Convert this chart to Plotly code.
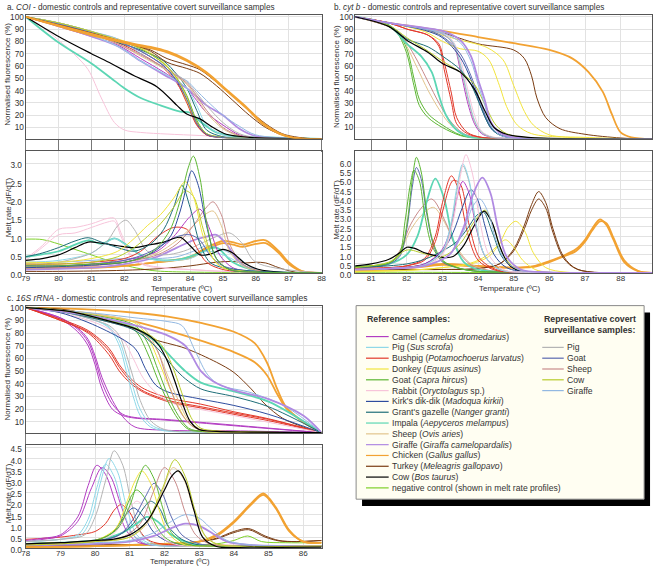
import plotly.graph_objects as go

W, H = 658, 573

COLORS = {
    "camel": "#B23CC2", "pig": "#8FD8E8", "bushpig": "#E2382A", "donkey": "#F2E43C",
    "goat": "#5CB632", "rabbit": "#F7C4DA", "dikdik": "#2E4C9E", "gazelle": "#1E6E78",
    "impala": "#5CD6B4", "sheep": "#E2C48C", "giraffe": "#B08AE2", "chicken": "#F2A232",
    "turkey": "#7A3C12", "cow": "#000000", "neg": "#7ED02A",
    "c_pig": "#B4B4B4", "c_goat": "#5A68B0", "c_sheep": "#C88A8A", "c_cow": "#B8CC2A",
    "c_giraffe": "#92B8E2",
}
WIDTHS = {"chicken": 1.8, "impala": 1.8, "giraffe": 1.8, "cow": 1.2}

# ---------------- a. COI ----------------
A_MID_T = [79, 80, 81, 81.8, 82.5, 83.2, 83.6, 83.9, 84.2, 84.5, 85.0, 85.5, 86, 88]
A_FLUOR = [
    ("rabbit", [79, 79.5, 80, 80.5, 80.9, 81.3, 81.7, 82.0, 82.5, 83.3, 84.3, 85.3, 86.8, 88],
               [100, 92, 81, 69, 57, 34, 14, 8, 6, 4.7, 3.5, 2.2, 1, 0.8]),
    ("impala", [79, 80, 81, 81.6, 82, 82.5, 83.1, 83.7, 84.0, 84.3, 84.8, 85.3, 86.3, 88],
               [100, 79, 62, 50, 42, 34, 28, 23, 22, 15, 6, 3, 2, 0.8]),
    ("goat", A_MID_T, [100, 95, 88, 81, 74, 62, 50, 36, 16, 5, 2, 1.3, 1, 0.8]),
    ("dikdik", A_MID_T, [100, 94, 87, 80, 72, 60, 47, 32, 13, 4, 1.8, 1.2, 1, 0.8]),
    ("bushpig", A_MID_T, [100, 94, 86, 79, 70, 58, 46, 30, 12, 4, 1.8, 1.2, 1, 0.8]),
    ("donkey", A_MID_T, [100, 95, 88, 82, 75, 63, 49, 32, 14, 5, 2, 1.3, 1, 0.8]),
    ("gazelle", A_MID_T, [100, 94, 86, 79, 73, 64, 53, 42, 24, 8, 2.5, 1.3, 1, 0.8]),
    ("camel", A_MID_T, [100, 92, 84, 77, 66, 55, 48, 42, 32, 22, 12, 4, 1.5, 0.8]),
    ("giraffe", A_MID_T, [100, 93, 84, 76, 64, 53, 47, 42, 35, 28, 20, 9, 3, 0.8]),
    ("c_giraffe", A_MID_T, [100, 95, 88, 82, 70, 58, 52, 48, 40, 32, 20, 11, 4, 0.8]),
    ("c_pig", A_MID_T, [100, 95, 88, 80, 72, 61, 53, 47, 38, 28, 14, 5, 2, 0.8]),
    ("sheep", A_MID_T, [100, 93, 86, 78, 68, 58, 51, 45, 34, 22, 9, 3, 1.5, 0.8]),
    ("c_sheep", A_MID_T, [100, 93, 86, 78, 69, 59, 52, 46, 36, 24, 10, 3.5, 1.5, 0.8]),
    ("pig", A_MID_T, [100, 94, 85, 76, 64, 54, 48, 42, 28, 12, 4, 1.5, 1, 0.8]),
    ("c_cow", A_MID_T, [100, 95, 88, 81, 74, 62, 50, 35, 15, 5, 2, 1.3, 1, 0.8]),
    ("c_goat", A_MID_T, [100, 94, 87, 80, 72, 60, 48, 33, 14, 4.5, 1.8, 1.2, 1, 0.8]),
    ("cow", [79, 80, 81, 81.6, 82.3, 83.0, 83.6, 83.9, 84.3, 84.7, 85.1, 85.8, 88],
            [100, 84, 70, 62, 52, 43, 28, 21, 17, 10, 4.5, 2, 0.8]),
    ("turkey", [79, 80.5, 81.5, 82.3, 82.8, 83.3, 83.9, 84.3, 84.8, 85.3, 85.8, 86.3, 86.8, 87.3, 88],
               [100, 90, 83, 77, 73, 66, 61, 57, 47, 36, 24, 13, 5, 2, 0.5]),
    ("turkey", [79, 80.5, 81.5, 82.3, 82.8, 83.3, 83.9, 84.3, 84.8, 85.3, 85.8, 86.3, 86.8, 87.3, 88],
               [100, 90, 83, 77, 72, 63, 58, 54, 44, 32, 20, 10, 4, 1.5, 0.5]),
    ("chicken", [79, 80.3, 81.3, 82.3, 82.8, 83.3, 83.9, 84.5, 85.1, 85.7, 86.2, 86.7, 87.1, 87.6, 88],
                [100, 91, 84, 78, 75.5, 72, 65, 55, 41, 27, 14, 5.5, 2, 0.7, 0.5]),
    ("chicken", [79, 80.3, 81.3, 82.3, 82.8, 83.3, 83.9, 84.5, 85.1, 85.7, 86.2, 86.7, 87.1, 87.6, 88],
                [100, 90, 83, 77, 74.5, 71, 64, 54, 40, 26, 13, 5, 1.8, 0.6, 0.5]),
]

A_MELT = [
    ("neg", [79, 79.5, 80, 80.5, 81, 81.5, 82, 82.5, 83, 84, 86, 88],
            [0.93, 0.92, 0.8, 0.65, 0.5, 0.35, 0.22, 0.12, 0.06, 0.03, 0.02, 0.01]),
    ("turkey", [79, 80, 81, 82, 83, 84, 84.8, 85.3, 85.7, 86.0, 86.3, 86.7, 87.2, 88],
               [0.05, 0.05, 0.06, 0.08, 0.12, 0.2, 0.3, 0.32, 0.28, 0.3, 0.28, 0.15, 0.03, 0.01]),
    ("chicken", [79, 80, 81, 82, 83, 84, 84.5, 85.0, 85.3, 85.6, 86.0, 86.3, 86.7, 87.0, 87.4, 88],
                [0.15, 0.15, 0.15, 0.2, 0.3, 0.45, 0.7, 0.88, 0.85, 0.78, 0.88, 0.9, 0.6, 0.3, 0.06, 0.01]),
    ("chicken", [79, 80, 81, 82, 83, 84, 84.5, 85.0, 85.3, 85.6, 86.0, 86.3, 86.7, 87.0, 87.4, 88],
                [0.15, 0.15, 0.15, 0.2, 0.3, 0.42, 0.65, 0.82, 0.78, 0.72, 0.8, 0.82, 0.55, 0.25, 0.05, 0.01]),
    ("rabbit", [79, 79.5, 80, 80.5, 81, 81.5, 81.7, 81.9, 82.2, 82.6, 83.2, 84, 85, 86, 88],
               [0.4, 0.75, 1.2, 1.25, 1.35, 1.5, 1.5, 1.1, 0.5, 0.25, 0.15, 0.1, 0.05, 0.03, 0.01]),
    ("rabbit", [79, 79.5, 80, 80.5, 81, 81.5, 81.7, 81.9, 82.2, 82.6, 83.2, 84, 85, 86, 88],
               [0.35, 0.7, 1.05, 1.1, 1.25, 1.4, 1.42, 1.0, 0.45, 0.22, 0.14, 0.1, 0.05, 0.03, 0.01]),
    ("c_giraffe", [79, 80, 81, 82, 83.0, 83.6, 84.1, 84.5, 84.8, 85.1, 85.5, 86, 88],
                  [0.3, 0.3, 0.35, 0.4, 0.4, 0.45, 0.6, 0.75, 0.7, 0.6, 0.4, 0.1, 0.01]),
    ("giraffe", [79, 80, 81, 82, 83.0, 83.6, 84.1, 84.5, 84.8, 85.1, 85.5, 86, 88],
                [0.1, 0.12, 0.15, 0.25, 0.45, 0.7, 0.9, 1.0, 1.05, 0.8, 0.3, 0.06, 0.01]),
    ("impala", [79, 80, 80.9, 81.3, 81.7, 82.1, 82.6, 83.2, 83.8, 84.3, 84.8, 85.3, 86, 88],
               [0.45, 0.6, 0.9, 0.8, 0.95, 0.75, 0.45, 0.35, 0.4, 0.55, 0.7, 0.3, 0.08, 0.01]),
    ("pig", [79, 80, 81, 81.4, 81.7, 82.0, 82.5, 83, 84, 84.5, 85, 86, 88],
            [0.3, 0.35, 0.55, 0.8, 0.95, 0.8, 0.5, 0.35, 0.4, 0.6, 0.5, 0.1, 0.01]),
    ("c_pig", [79, 80, 80.5, 81, 81.5, 81.8, 82.05, 82.3, 82.7, 83.2, 83.8, 84.3, 84.8, 85.2, 85.6, 86, 88],
              [0.2, 0.3, 0.4, 0.55, 0.9, 1.3, 1.45, 1.2, 0.6, 0.5, 0.6, 0.8, 1.0, 1.1, 0.8, 0.3, 0.01]),
    ("bushpig", [79, 80, 81, 82, 82.5, 83.0, 83.5, 83.9, 84.2, 84.5, 85, 86, 88],
                [0.25, 0.25, 0.3, 0.4, 0.6, 1.0, 1.25, 1.2, 0.7, 0.3, 0.1, 0.03, 0.01]),
    ("camel", [79, 80, 81, 82, 83.0, 83.5, 84.0, 84.3, 84.6, 84.9, 85.3, 86, 88],
              [0.2, 0.2, 0.25, 0.35, 0.6, 1.0, 1.55, 1.75, 1.2, 0.5, 0.15, 0.04, 0.01]),
    ("sheep", [79, 80, 81, 82, 83.0, 83.6, 84.1, 84.45, 84.7, 84.95, 85.2, 85.6, 86.2, 88],
              [0.18, 0.18, 0.22, 0.3, 0.55, 0.9, 1.3, 1.6, 1.7, 1.3, 0.6, 0.2, 0.05, 0.01]),
    ("c_sheep", [79, 80, 81, 82, 83.0, 83.6, 84.1, 84.45, 84.7, 84.95, 85.2, 85.6, 86.2, 88],
                [0.15, 0.15, 0.2, 0.3, 0.5, 0.8, 1.3, 1.75, 1.95, 1.6, 0.8, 0.25, 0.05, 0.01]),
    ("c_goat", [79, 80, 81, 82, 82.7, 83.2, 83.6, 84.0, 84.3, 84.6, 85, 86, 88],
               [0.2, 0.2, 0.25, 0.35, 0.55, 0.8, 1.0, 1.05, 0.9, 0.5, 0.2, 0.05, 0.01]),
    ("cow", [79, 79.5, 80, 80.5, 80.9, 81.3, 81.8, 82.3, 82.8, 83.2, 83.7, 84.0, 84.3, 84.6, 85.0, 85.3, 85.7, 86.2, 88],
            [0.35, 0.4, 0.5, 0.7, 0.85, 0.82, 0.75, 0.7, 0.78, 0.85, 0.98, 0.75, 0.5, 0.52, 0.65, 0.55, 0.25, 0.08, 0.01]),
    ("gazelle", [79, 79.5, 80, 80.5, 80.9, 81.3, 81.8, 82.3, 82.8, 83.2, 83.5, 83.75, 84.0, 84.3, 84.6, 85, 86, 88],
                [0.45, 0.55, 0.7, 0.88, 0.97, 0.85, 0.7, 0.6, 0.8, 1.2, 1.8, 2.4, 1.8, 0.8, 0.3, 0.15, 0.05, 0.01]),
    ("c_cow", [79, 80, 81, 81.8, 82.3, 82.7, 83.1, 83.5, 83.85, 84.1, 84.4, 84.7, 85.0, 86, 88],
              [0.25, 0.25, 0.3, 0.45, 0.7, 1.0, 1.35, 1.8, 2.25, 2.1, 1.2, 0.4, 0.15, 0.03, 0.01]),
    ("donkey", [79, 80, 81, 81.8, 82.3, 82.7, 83.1, 83.5, 83.85, 84.1, 84.4, 84.7, 85.0, 86, 88],
               [0.3, 0.3, 0.4, 0.6, 0.95, 1.3, 1.6, 2.05, 2.5, 2.1, 1.0, 0.4, 0.15, 0.03, 0.01]),
    ("dikdik", [79, 80, 81, 82, 82.6, 83.0, 83.4, 83.7, 83.9, 84.05, 84.25, 84.5, 84.8, 85.2, 86, 88],
               [0.15, 0.18, 0.22, 0.3, 0.45, 0.65, 1.0, 1.7, 2.4, 2.8, 2.4, 1.3, 0.4, 0.1, 0.03, 0.01]),
    ("goat", [79, 80, 81, 82, 82.6, 83.0, 83.4, 83.7, 83.95, 84.1, 84.3, 84.5, 84.8, 85.2, 86, 88],
             [0.2, 0.2, 0.25, 0.3, 0.45, 0.7, 1.2, 2.0, 2.9, 3.2, 2.6, 1.4, 0.4, 0.1, 0.03, 0.01]),
]

# ---------------- b. cyt b ----------------
B_FLUOR = [
    ("chicken", [80.55, 81.5, 83, 84, 85, 86, 86.65, 87.1, 87.5, 87.75, 88.0, 88.3, 88.88],
                [100, 95, 88.5, 83.5, 78.5, 73, 66, 55, 39, 21, 6, 2, 0.5]),
    ("turkey", [80.55, 81.5, 82.5, 83, 84, 85, 85.3, 85.5, 85.65, 85.9, 86.3, 87.0, 88, 88.88],
               [100, 95, 90, 87, 78, 73, 66, 52, 34, 18, 9, 4.5, 1.5, 0.5]),
    ("donkey", [80.55, 81.5, 82.5, 83, 83.5, 84.25, 84.7, 85.0, 85.3, 85.55, 86, 87, 88.88],
               [100, 95, 89, 85, 81, 75, 65, 44, 23, 12, 4, 2, 0.5]),
    ("donkey", [80.55, 81.5, 82.5, 83, 83.5, 84.0, 84.3, 84.6, 84.8, 85.1, 85.5, 86.5, 88.88],
               [100, 95, 88, 80, 74, 72, 65, 44, 27, 12, 5, 2, 0.5]),
    ("goat", [80.55, 81.5, 81.75, 82.0, 82.2, 82.35, 82.6, 83.0, 83.5, 84.0, 85, 88.88],
             [100, 92, 86, 70, 44, 28, 18, 10, 3.5, 1.2, 0.8, 0.5]),
    ("goat", [80.55, 81.5, 81.75, 82.0, 82.2, 82.35, 82.6, 83.0, 83.5, 84.0, 85, 88.88],
             [100, 92, 87, 74, 50, 33, 21, 12, 4, 1.5, 0.8, 0.5]),
    ("sheep", [80.55, 81.5, 81.8, 82.0, 82.3, 82.6, 82.9, 83.2, 83.6, 84.2, 88.88],
              [100, 92, 86, 76, 58, 40, 25, 13, 4, 1.2, 0.5]),
    ("c_sheep", [80.55, 81.5, 81.8, 82.0, 82.3, 82.6, 82.9, 83.2, 83.6, 84.2, 88.88],
                [100, 92, 87, 79, 64, 47, 30, 16, 5, 1.3, 0.5]),
    ("impala", [80.55, 81.5, 82.0, 82.4, 82.7, 82.9, 83.1, 83.4, 83.8, 84.3, 88.88],
               [100, 93, 78, 68, 55, 36, 20, 8, 2, 1, 0.5]),
    ("bushpig", [80.55, 81.5, 82.0, 82.6, 82.9, 83.05, 83.25, 83.4, 83.7, 84.1, 85, 88.88],
                [100, 95, 90, 85, 76, 57, 31, 13, 5, 2, 1, 0.5]),
    ("bushpig", [80.55, 81.5, 82.0, 82.6, 82.9, 83.05, 83.25, 83.4, 83.7, 84.1, 85, 88.88],
                [100, 95, 90, 85, 78, 63, 38, 18, 6, 2, 1, 0.5]),
    ("camel", [80.55, 81.5, 82.5, 83.0, 83.3, 83.5, 83.7, 83.9, 84.1, 84.4, 85, 88.88],
              [100, 95, 90, 86, 78, 57, 31, 13, 5, 2, 1, 0.5]),
    ("rabbit", [80.55, 81.5, 82.5, 83.0, 83.3, 83.5, 83.7, 83.9, 84.1, 84.4, 85, 88.88],
               [100, 95, 90, 87, 80, 66, 42, 20, 7, 2.5, 1, 0.5]),
    ("pig", [80.55, 81.5, 82.5, 83.0, 83.3, 83.5, 83.7, 83.9, 84.1, 84.4, 85, 88.88],
            [100, 95, 90, 86, 79, 62, 37, 16, 6, 2, 1, 0.5]),
    ("c_pig", [80.55, 81.5, 82.5, 83.0, 83.3, 83.5, 83.7, 83.9, 84.1, 84.4, 85, 88.88],
              [100, 95, 90, 86, 78, 60, 35, 15, 6, 2, 1, 0.5]),
    ("dikdik", [80.55, 81.5, 82.5, 83.0, 83.5, 83.8, 84.0, 84.2, 84.4, 84.7, 85.2, 88.88],
               [100, 95, 89, 83, 67, 49, 33, 18, 8, 3, 1.5, 0.5]),
    ("c_goat", [80.55, 81.5, 82.5, 83.0, 83.5, 83.8, 84.0, 84.2, 84.4, 84.7, 85.2, 88.88],
               [100, 95, 90, 84, 70, 52, 36, 20, 9, 3, 1.5, 0.5]),
    ("gazelle", [80.55, 81.5, 82.0, 82.6, 83.0, 83.5, 83.8, 84.1, 84.35, 84.6, 85, 88.88],
                [100, 93, 82, 75.5, 68, 57, 45, 25, 10, 4, 2, 0.5]),
    ("c_cow", [80.55, 81.5, 82.0, 82.6, 83.0, 83.5, 83.9, 84.2, 84.5, 84.8, 85.3, 88.88],
              [100, 93, 83, 72, 64, 55, 45, 28, 12, 5, 2, 0.5]),
    ("c_giraffe", [80.55, 81.5, 82.5, 83.0, 83.5, 83.8, 84.0, 84.2, 84.35, 84.6, 85, 88.88],
                  [100, 95, 90, 87, 79, 64, 45, 27, 12, 4, 1.5, 0.5]),
    ("giraffe", [80.55, 81.5, 82.5, 83.0, 83.5, 83.8, 84.0, 84.2, 84.35, 84.6, 85, 88.88],
                [100, 95, 91, 88.5, 81, 68, 49, 31, 15, 6, 2, 0.5]),
    ("cow", [80.55, 81.5, 82.0, 82.6, 83.0, 83.5, 83.9, 84.2, 84.45, 84.8, 85.4, 88.88],
            [100, 92, 81, 71, 62, 55, 41, 23, 10, 4.5, 2, 0.5]),
]

B_MELT = [
    ("neg", [80.55, 82, 84, 86, 88.88], [0.05, 0.05, 0.04, 0.04, 0.03]),
    ("chicken", [80.55, 82, 83, 84, 85, 85.6, 86.0, 86.4, 86.75, 87.0, 87.2, 87.42, 87.6, 87.8, 88.1, 88.5, 88.88],
                [0.1, 0.3, 0.5, 0.4, 0.3, 0.4, 0.65, 0.95, 1.3, 1.8, 2.4, 2.9, 2.6, 1.8, 0.6, 0.1, 0.02]),
    ("chicken", [80.55, 82, 83, 84, 85, 85.6, 86.0, 86.4, 86.75, 87.0, 87.2, 87.42, 87.6, 87.8, 88.1, 88.5, 88.88],
                [0.1, 0.25, 0.45, 0.35, 0.3, 0.35, 0.6, 0.9, 1.2, 1.7, 2.3, 2.8, 2.7, 1.9, 0.7, 0.12, 0.02]),
    ("turkey", [80.55, 82, 83, 84, 84.6, 85.0, 85.3, 85.5, 85.7, 85.9, 86.1, 86.4, 86.8, 88.88],
               [0.2, 0.2, 0.2, 0.25, 0.5, 1.3, 2.6, 3.7, 4.4, 3.8, 2.4, 0.9, 0.2, 0.02]),
    ("turkey", [80.55, 82, 83, 84, 84.6, 85.0, 85.3, 85.5, 85.7, 85.9, 86.1, 86.4, 86.8, 88.88],
               [0.2, 0.2, 0.2, 0.25, 0.5, 1.2, 2.4, 3.4, 4.0, 3.5, 2.2, 0.8, 0.2, 0.02]),
    ("donkey", [80.55, 82, 83, 83.8, 84.3, 84.6, 84.85, 85.06, 85.3, 85.55, 85.9, 86.5, 88.88],
               [0.1, 0.15, 0.3, 0.5, 0.9, 1.6, 2.5, 2.8, 2.3, 1.1, 0.3, 0.05, 0.02]),
    ("donkey", [80.55, 82, 83, 83.8, 84.2, 84.5, 84.77, 85.0, 85.25, 85.6, 86, 88.88],
               [0.1, 0.15, 0.3, 0.55, 0.9, 1.4, 1.8, 1.4, 0.7, 0.2, 0.05, 0.02]),
    ("sheep", [80.55, 81.5, 81.8, 82.1, 82.4, 82.75, 83.1, 83.4, 83.8, 84.3, 85, 88.88],
              [0.3, 0.5, 1.1, 2.3, 3.1, 3.55, 2.6, 1.4, 0.5, 0.15, 0.05, 0.02]),
    ("c_sheep", [80.55, 81.5, 81.8, 82.1, 82.4, 82.7, 83.1, 83.4, 83.8, 84.3, 85, 88.88],
                [0.3, 0.5, 1.2, 2.6, 3.5, 4.0, 2.7, 1.3, 0.45, 0.15, 0.05, 0.02]),
    ("impala", [80.55, 81.5, 82.0, 82.3, 82.55, 82.8, 83.05, 83.3, 83.6, 84, 85, 88.88],
               [0.35, 0.5, 1.0, 2.0, 3.8, 5.1, 4.0, 1.8, 0.6, 0.2, 0.05, 0.02]),
    ("c_goat", [80.55, 81, 81.5, 81.8, 82.0, 82.15, 82.27, 82.4, 82.55, 82.75, 83.0, 83.5, 84, 85, 88.88],
               [0.3, 0.35, 0.5, 0.9, 2.4, 4.6, 5.7, 5.1, 3.3, 1.5, 0.6, 0.25, 0.1, 0.05, 0.02]),
    ("goat", [80.55, 81, 81.5, 81.8, 82.0, 82.15, 82.27, 82.4, 82.55, 82.75, 83.0, 83.5, 84, 85, 88.88],
             [0.35, 0.4, 0.55, 1.0, 2.6, 5.0, 6.25, 5.5, 3.5, 1.6, 0.7, 0.25, 0.1, 0.05, 0.02]),
    ("goat", [80.55, 81, 81.5, 81.8, 81.95, 82.1, 82.2, 82.35, 82.5, 82.7, 83.0, 83.5, 84, 85, 88.88],
             [0.35, 0.4, 0.55, 1.1, 2.8, 4.8, 5.55, 5.0, 3.2, 1.5, 0.65, 0.25, 0.1, 0.05, 0.02]),
    ("bushpig", [80.55, 81.5, 82.0, 82.5, 82.8, 83.0, 83.25, 83.45, 83.7, 84.0, 84.5, 85.5, 88.88],
                [0.25, 0.3, 0.4, 0.8, 2.0, 3.8, 5.25, 4.5, 2.2, 0.7, 0.15, 0.05, 0.02]),
    ("bushpig", [80.55, 81.5, 82.0, 82.5, 82.8, 83.0, 83.3, 83.5, 83.75, 84.05, 84.5, 85.5, 88.88],
                [0.25, 0.3, 0.4, 0.7, 1.7, 3.3, 5.0, 4.8, 2.6, 0.8, 0.2, 0.05, 0.02]),
    ("gazelle", [80.55, 81.5, 82.0, 82.5, 83.0, 83.4, 83.7, 83.95, 84.15, 84.4, 84.7, 85.2, 88.88],
                [0.3, 0.4, 0.5, 0.75, 1.2, 1.7, 2.4, 3.1, 3.3, 2.2, 0.8, 0.1, 0.02]),
    ("c_cow", [80.55, 81.5, 82.0, 82.5, 83.0, 83.5, 83.9, 84.2, 84.45, 84.7, 85.1, 86, 88.88],
              [0.3, 0.6, 1.25, 1.05, 0.9, 1.6, 2.8, 3.4, 2.4, 1.0, 0.2, 0.03, 0.02]),
    ("cow", [80.55, 81.0, 81.5, 81.8, 82.0, 82.2, 82.5, 82.8, 83.0, 83.3, 83.6, 83.9, 84.17, 84.4, 84.6, 84.85, 85.2, 86, 88.88],
            [0.4, 0.5, 0.75, 1.1, 1.4, 1.35, 1.1, 0.95, 0.85, 0.9, 1.5, 2.6, 3.35, 2.7, 1.5, 0.5, 0.1, 0.03, 0.02]),
    ("dikdik", [80.55, 81.5, 82.5, 83.0, 83.3, 83.55, 83.8, 84.0, 84.2, 84.45, 84.8, 85.5, 88.88],
               [0.2, 0.25, 0.5, 1.2, 2.2, 3.5, 4.5, 3.9, 2.5, 1.0, 0.3, 0.05, 0.02]),
    ("camel", [80.55, 81.5, 82.5, 83.0, 83.25, 83.4, 83.57, 83.75, 83.95, 84.2, 84.6, 85.5, 88.88],
              [0.2, 0.25, 0.5, 1.3, 2.6, 4.0, 4.95, 4.3, 2.4, 0.9, 0.2, 0.05, 0.02]),
    ("c_pig", [80.55, 81.5, 82.5, 83.0, 83.25, 83.4, 83.57, 83.75, 83.95, 84.2, 84.6, 85.5, 88.88],
              [0.2, 0.25, 0.45, 1.1, 2.6, 4.4, 5.8, 4.9, 2.5, 0.9, 0.2, 0.05, 0.02]),
    ("pig", [80.55, 81.5, 82.5, 83.0, 83.25, 83.4, 83.57, 83.75, 83.95, 84.2, 84.6, 85.5, 88.88],
            [0.2, 0.25, 0.45, 1.2, 2.8, 4.6, 5.9, 5.0, 2.6, 0.9, 0.2, 0.05, 0.02]),
    ("rabbit", [80.55, 81.5, 82.5, 83.0, 83.3, 83.5, 83.66, 83.85, 84.05, 84.3, 84.7, 85.5, 88.88],
               [0.2, 0.25, 0.4, 1.0, 2.8, 5.2, 6.4, 5.3, 2.8, 1.0, 0.2, 0.05, 0.02]),
    ("c_giraffe", [80.55, 81.5, 82.5, 83.2, 83.6, 83.85, 84.05, 84.3, 84.5, 84.8, 85.2, 86, 88.88],
                  [0.2, 0.25, 0.4, 1.0, 2.3, 3.6, 4.0, 3.2, 1.8, 0.6, 0.15, 0.05, 0.02]),
    ("giraffe", [80.55, 81.5, 82.5, 83.2, 83.6, 83.85, 84.12, 84.35, 84.55, 84.8, 85.2, 86, 88.88],
                [0.2, 0.25, 0.4, 1.0, 2.5, 4.2, 5.15, 4.3, 2.5, 0.9, 0.2, 0.05, 0.02]),
]

# ---------------- c. 16S rRNA ----------------
C_FLUOR = [
    ("chicken", [78, 79, 80.2, 81.15, 82.1, 83.05, 84.0, 84.6, 84.95, 85.25, 85.5, 86.0, 86.53],
                [100, 99.5, 98, 96, 93, 88, 81, 72, 57, 36, 22, 10, 1.5]),
    ("chicken", [78, 79, 80.2, 81.15, 82.1, 83.05, 84.0, 84.6, 84.95, 85.25, 85.5, 86.0, 86.53],
                [100, 98, 94, 89, 82, 74, 65, 57, 47, 32, 21, 10, 1.5]),
    ("turkey", [78, 79.25, 80.2, 81.15, 81.6, 82.6, 83.5, 84.0, 84.5, 84.9, 85.4, 86.0, 86.53],
               [100, 98, 91, 83.5, 76, 68, 57, 49, 36, 24, 13, 6, 1.5]),
    ("camel", [78, 79.0, 79.5, 79.8, 80.0, 80.2, 80.5, 80.8, 81.15, 82, 84, 86.53],
              [100, 91, 81, 70, 55, 36, 20, 15, 13, 11.5, 7, 1.5]),
    ("camel", [78, 79.0, 79.5, 79.8, 80.0, 80.2, 80.5, 80.8, 81.15, 82, 84, 86.53],
              [100, 92, 83, 73, 59, 41, 24, 16, 13.5, 12, 7.5, 1.5]),
    ("camel", [78, 79.0, 79.5, 79.8, 80.0, 80.2, 80.5, 80.8, 81.15, 82, 84, 86.53],
              [100, 92, 84, 75, 62, 45, 27, 14, 6, 3.5, 3, 1.5]),
    ("bushpig", [78, 79.0, 79.8, 80.4, 80.7, 81.0, 81.35, 82.1, 83.05, 84.0, 85.0, 86.53],
                [100, 90, 80, 63, 50, 41, 34, 26, 21, 16, 11, 1.5]),
    ("bushpig", [78, 79.0, 79.8, 80.4, 80.7, 81.0, 81.35, 82.1, 83.05, 84.0, 85.0, 86.53],
                [100, 90, 81, 66, 53, 43, 35, 27, 22, 17, 12, 1.5]),
    ("bushpig", [78, 79.0, 79.8, 80.4, 80.7, 81.0, 81.35, 82.1, 83.05, 84.0, 85.0, 86.53],
                [100, 91, 82, 68, 55, 45, 37, 29, 24, 18, 12.5, 1.5]),
    ("pig", [78, 79.0, 80.0, 80.4, 80.7, 80.9, 81.1, 81.3, 81.6, 82, 83, 86.53],
            [100, 97, 90, 84, 70, 50, 30, 15, 6, 3, 2, 1.5]),
    ("pig", [78, 79.0, 80.0, 80.4, 80.7, 80.9, 81.1, 81.3, 81.6, 82, 83, 86.53],
            [100, 97, 90, 85, 74, 57, 37, 20, 8, 3.5, 2, 1.5]),
    ("c_pig", [78, 79.0, 80.0, 80.4, 80.7, 80.9, 81.1, 81.3, 81.6, 82, 83, 86.53],
              [100, 97, 90, 86, 78, 63, 45, 27, 11, 4, 2, 1.5]),
    ("rabbit", [78, 79, 80.2, 80.8, 81.1, 81.4, 81.8, 82.3, 83, 84, 86.53],
               [100, 96, 86, 75, 60, 44, 32, 24, 20, 15, 1.5]),
    ("dikdik", [78, 79, 80.2, 81.15, 81.45, 81.75, 82.1, 83.05, 84.0, 85.0, 86.53],
               [100, 96, 83.5, 68, 52, 39, 33.6, 28, 23, 16, 1.5]),
    ("goat", [78, 79, 80.2, 81.15, 81.5, 81.8, 82.1, 82.4, 82.7, 83.1, 84, 86.53],
             [100, 98, 93, 86, 73, 52, 31, 15, 5, 2.5, 2, 1.5]),
    ("goat", [78, 79, 80.2, 81.15, 81.5, 81.8, 82.1, 82.4, 82.7, 83.1, 84, 86.53],
             [100, 98, 92, 82, 65, 44, 26, 12, 4, 2.5, 2, 1.5]),
    ("donkey", [78, 79, 80.2, 81.15, 81.5, 81.8, 82.1, 82.4, 82.7, 83.1, 84, 86.53],
               [100, 98, 94, 88, 78, 60, 40, 22, 9, 3, 2, 1.5]),
    ("sheep", [78, 79, 80.2, 81.15, 81.5, 81.8, 82.1, 82.4, 82.7, 83.1, 84, 86.53],
              [100, 98, 94, 89, 81, 66, 46, 27, 11, 3.5, 2, 1.5]),
    ("c_sheep", [78, 79, 80.2, 81.15, 81.5, 81.8, 82.0, 82.2, 82.5, 82.9, 84, 86.53],
                [100, 97, 90, 83, 77, 66, 50, 34, 16, 5, 2.5, 1.5]),
    ("impala", [78, 79, 80.2, 81.15, 81.8, 82.3, 82.6, 83.05, 84.0, 85.0, 86.53],
               [100, 97, 91, 84, 72, 58, 50, 41, 34, 26, 1.5]),
    ("gazelle", [78, 79, 80.2, 81.15, 81.8, 82.3, 82.6, 83.05, 84.0, 85.0, 86.53],
                [100, 97, 90, 82, 68, 52, 44, 36, 30, 22, 1.5]),
    ("c_giraffe", [78, 79, 80.2, 81.15, 82.1, 82.5, 82.9, 83.25, 83.6, 84.5, 85.5, 86.53],
                  [100, 98, 95, 92, 89, 86, 65, 47, 39, 33, 22, 1.5]),
    ("giraffe", [78, 79, 80.2, 81.15, 82.1, 82.6, 83.05, 83.4, 84.0, 85.0, 86.0, 86.53],
                [100, 97, 92, 86, 78, 70, 50, 42, 35, 28, 15, 1.5]),
    ("c_cow", [78, 79.25, 80.2, 81.15, 81.6, 81.9, 82.15, 82.35, 82.55, 82.8, 83.05, 83.5, 84.5, 86.53],
              [100, 97, 91, 84, 78, 71, 59, 45, 29, 12, 5, 3, 2, 1.5]),
    ("cow", [78, 79.25, 80.2, 81.15, 81.6, 81.85, 82.1, 82.3, 82.5, 82.75, 83.0, 83.5, 84.5, 86.53],
            [100, 97, 91, 83.5, 77, 70, 57, 42, 26, 10, 4, 2.5, 2, 1.5]),
]

C_MELT = [
    ("neg", [78, 80, 82, 83.5, 84.0, 84.4, 84.8, 85.5, 86.53],
            [0.1, 0.12, 0.15, 0.2, 0.35, 0.55, 0.3, 0.25, 0.25]),
    ("turkey", [78, 80, 82, 83, 83.5, 84.0, 84.43, 84.9, 85.3, 85.8, 86.53],
               [0.1, 0.15, 0.2, 0.3, 0.45, 0.75, 0.88, 0.55, 0.35, 0.3, 0.35]),
    ("turkey", [78, 80, 82, 83, 83.5, 84.0, 84.43, 84.9, 85.3, 85.8, 86.53],
               [0.1, 0.15, 0.2, 0.3, 0.42, 0.7, 0.83, 0.5, 0.33, 0.3, 0.35]),
    ("chicken", [78, 80, 82, 83, 83.5, 84.0, 84.5, 84.85, 85.2, 85.6, 86.0, 86.53],
                [0.05, 0.1, 0.2, 0.3, 0.6, 1.2, 2.0, 2.45, 1.85, 0.8, 0.3, 0.25]),
    ("chicken", [78, 80, 82, 83, 83.5, 84.0, 84.5, 84.85, 85.2, 85.6, 86.0, 86.53],
                [0.05, 0.1, 0.2, 0.3, 0.55, 1.15, 1.95, 2.38, 1.8, 0.75, 0.3, 0.25]),
    ("bushpig", [78, 79, 79.5, 80, 80.3, 80.55, 80.75, 81.0, 81.2, 81.5, 81.9, 83, 86.53],
                [0.4, 0.5, 0.6, 0.75, 1.1, 1.7, 1.95, 1.6, 1.0, 0.4, 0.2, 0.15, 0.1]),
    ("camel", [78, 78.5, 79, 79.5, 79.8, 80.05, 80.3, 80.6, 80.9, 81.2, 81.6, 82.5, 84, 86.53],
              [0.35, 0.45, 0.6, 1.4, 2.8, 3.7, 3.3, 2.0, 0.8, 0.3, 0.15, 0.1, 0.1, 0.1]),
    ("camel", [78, 78.5, 79, 79.5, 79.9, 80.2, 80.45, 80.75, 81.05, 81.35, 81.7, 82.5, 84, 86.53],
              [0.3, 0.4, 0.55, 1.2, 2.7, 3.6, 3.2, 1.9, 0.7, 0.25, 0.15, 0.1, 0.1, 0.1]),
    ("pig", [78, 79, 79.5, 79.8, 80.05, 80.3, 80.55, 80.8, 81.1, 81.5, 82, 84, 86.53],
            [0.3, 0.4, 0.6, 1.3, 2.7, 3.75, 3.2, 1.8, 0.6, 0.2, 0.1, 0.1, 0.1]),
    ("pig", [78, 79, 79.6, 79.9, 80.15, 80.4, 80.65, 80.9, 81.2, 81.6, 82, 84, 86.53],
            [0.3, 0.4, 0.6, 1.4, 2.9, 4.0, 3.4, 1.9, 0.6, 0.2, 0.1, 0.1, 0.1]),
    ("c_pig", [78, 79, 79.7, 80.0, 80.3, 80.55, 80.8, 81.05, 81.35, 81.7, 82.2, 84, 86.53],
              [0.3, 0.4, 0.6, 1.4, 3.0, 4.35, 3.7, 2.0, 0.6, 0.2, 0.1, 0.1, 0.1]),
    ("impala", [78, 79, 80, 80.8, 81.2, 81.5, 81.8, 82.2, 82.8, 84, 86.53],
               [0.2, 0.25, 0.35, 0.7, 1.1, 1.4, 1.2, 0.6, 0.2, 0.1, 0.1]),
    ("dikdik", [78, 79, 80, 80.5, 80.8, 81.1, 81.4, 81.7, 82.1, 82.6, 83.5, 86.53],
               [0.15, 0.2, 0.35, 0.7, 1.3, 1.8, 1.4, 0.7, 0.3, 0.15, 0.1, 0.1]),
    ("rabbit", [78, 79, 80, 80.5, 80.8, 81.0, 81.2, 81.45, 81.7, 82.0, 82.4, 83.5, 86.53],
               [0.2, 0.25, 0.35, 0.6, 1.2, 1.8, 2.1, 1.8, 1.0, 0.4, 0.15, 0.1, 0.1]),
    ("goat", [78, 79, 80, 80.5, 80.8, 81.0, 81.2, 81.45, 81.7, 82.0, 82.4, 83.5, 86.53],
             [0.2, 0.25, 0.35, 0.7, 1.4, 2.2, 2.6, 2.2, 1.2, 0.5, 0.2, 0.1, 0.1]),
    ("gazelle", [78, 79, 80, 80.7, 81.1, 81.4, 81.6, 81.85, 82.1, 82.5, 83, 84, 86.53],
                [0.15, 0.2, 0.3, 0.6, 1.1, 1.8, 2.1, 1.8, 1.0, 0.4, 0.15, 0.1, 0.1]),
    ("c_goat", [78, 79, 80, 80.7, 81.1, 81.45, 81.7, 81.95, 82.2, 82.5, 83, 84, 86.53],
               [0.15, 0.2, 0.3, 0.6, 1.3, 2.3, 2.9, 2.4, 1.4, 0.6, 0.2, 0.1, 0.1]),
    ("donkey", [78, 79, 80, 80.6, 80.9, 81.15, 81.35, 81.6, 81.85, 82.1, 82.5, 83.5, 86.53],
               [0.2, 0.25, 0.35, 0.9, 2.0, 3.0, 3.45, 2.9, 1.7, 0.7, 0.2, 0.1, 0.1]),
    ("goat", [78, 79, 80, 80.6, 81.0, 81.25, 81.45, 81.7, 81.95, 82.2, 82.6, 83.5, 86.53],
             [0.2, 0.25, 0.35, 0.8, 1.9, 3.1, 3.7, 3.1, 1.8, 0.7, 0.2, 0.1, 0.1]),
    ("giraffe", [78, 79, 80, 81, 81.7, 82.2, 82.6, 83.0, 83.4, 83.8, 84.5, 86.53],
                [0.15, 0.15, 0.2, 0.3, 0.55, 0.9, 1.1, 1.0, 0.65, 0.3, 0.15, 0.1]),
    ("c_giraffe", [78, 79, 80, 81, 81.7, 82.2, 82.6, 83.0, 83.4, 83.8, 84.5, 86.53],
                  [0.2, 0.2, 0.25, 0.35, 0.7, 1.2, 1.5, 1.35, 0.8, 0.35, 0.15, 0.1]),
    ("c_sheep", [78, 79, 80, 80.8, 81.3, 81.65, 82.0, 82.3, 82.6, 82.9, 83.3, 84, 86.53],
                [0.15, 0.2, 0.3, 0.5, 1.1, 2.4, 3.6, 3.0, 1.6, 0.6, 0.2, 0.1, 0.1]),
    ("sheep", [78, 79, 80, 81, 81.5, 81.9, 82.25, 82.55, 82.85, 83.15, 83.5, 84, 86.53],
              [0.15, 0.2, 0.3, 0.5, 1.1, 2.4, 3.6, 3.1, 1.7, 0.6, 0.2, 0.1, 0.1]),
    ("c_cow", [78, 79, 80, 81, 81.5, 81.95, 82.3, 82.6, 82.9, 83.2, 83.5, 84, 86.53],
              [0.15, 0.2, 0.3, 0.5, 1.2, 2.7, 3.95, 3.2, 1.6, 0.5, 0.2, 0.1, 0.1]),
    ("cow", [78, 79, 80, 80.5, 81, 81.5, 82.0, 82.2, 82.4, 82.6, 82.85, 83.1, 83.5, 84.5, 86.53],
            [0.2, 0.25, 0.35, 0.4, 0.6, 1.2, 2.6, 3.2, 3.45, 3.0, 1.7, 0.5, 0.08, 0.05, 0.05]),
]

# ---------------- legend ----------------
LEGEND_REF = [
    ("camel", "Camel (<i>Camelus dromedarius</i>)"),
    ("pig", "Pig (<i>Sus scrofa</i>)"),
    ("bushpig", "Bushpig (<i>Potamochoerus larvatus</i>)"),
    ("donkey", "Donkey (<i>Equus asinus</i>)"),
    ("goat", "Goat (<i>Capra hircus</i>)"),
    ("rabbit", "Rabbit (<i>Oryctolagus</i> sp.)"),
    ("dikdik", "Kirk's dik-dik (<i>Madoqua kirkii</i>)"),
    ("gazelle", "Grant's gazelle (<i>Nanger granti</i>)"),
    ("impala", "Impala (<i>Aepyceros melampus</i>)"),
    ("sheep", "Sheep (<i>Ovis aries</i>)"),
    ("giraffe", "Giraffe (<i>Giraffa camelopardalis</i>)"),
    ("chicken", "Chicken (<i>Gallus gallus</i>)"),
    ("turkey", "Turkey (<i>Meleagris gallopavo</i>)"),
    ("cow", "Cow (<i>Bos taurus</i>)"),
    ("neg", "negative control (shown in melt rate profiles)"),
]
LEGEND_COVERT = [("c_pig", "Pig"), ("c_goat", "Goat"), ("c_sheep", "Sheep"),
                 ("c_cow", "Cow"), ("c_giraffe", "Giraffe")]

FLUOR_TICKS = [10, 20, 30, 40, 50, 60, 70, 80, 90, 100]
A_MELT_TICKS = [0, 0.5, 1.0, 1.5, 2.0, 2.5, 3.0]
B_MELT_TICKS = [0, 0.5, 1.0, 1.5, 2.0, 2.5, 3.0, 3.5, 4.0, 4.5, 5.0, 5.5, 6.0]
C_MELT_TICKS = [0, 0.5, 1.0, 1.5, 2.0, 2.5, 3.0, 3.5, 4.0, 4.5]


def px(x):
    return x / W


def py(y):
    return 1 - y / H


FONT = "Liberation Sans, Arial, sans-serif"
TXT = "#333333"

fig = go.Figure()

panels = [
    (A_FLUOR, "x", "y"), (A_MELT, "x2", "y2"),
    (B_FLUOR, "x3", "y3"), (B_MELT, "x4", "y4"),
    (C_FLUOR, "x5", "y5"), (C_MELT, "x6", "y6"),
]
for data, xa, ya in panels:
    for key, t, v in data:
        fig.add_trace(go.Scatter(
            x=t, y=v, xaxis=xa, yaxis=ya, mode="lines",
            line=dict(color=COLORS[key], width=WIDTHS.get(key, 1.0), shape="spline", smoothing=0.9),
            hoverinfo="skip", showlegend=False))

GRID = "#E2E2E2"
FRAME = "#555555"


def xax(dom, rng, anchor, top):
    d = dict(domain=dom, range=rng, anchor=anchor, dtick=1, tick0=0,
             showgrid=True, gridcolor=GRID, gridwidth=1, zeroline=False,
             showline=True, linecolor=FRAME, linewidth=1.2, mirror=True,
             tickfont=dict(size=8, color=TXT, family=FONT))
    if top:
        d.update(showticklabels=False, ticks="outside", ticklen=12, tickcolor="#777777", tickwidth=1)
    else:
        d.update(showticklabels=True, ticks="", ticklabelstandoff=-3)
    return d


def yax(dom, rng, anchor, vals, fmt, melt=False):
    d = dict(domain=dom, range=rng, anchor=anchor, tickvals=vals, tickformat=fmt,
             showgrid=True, gridcolor=GRID, gridwidth=1, zeroline=False,
             showline=True, linecolor=FRAME, linewidth=1.2, mirror=True, ticks="",
             ticklabelstandoff=-1,
             tickfont=dict(size=8.3, color=TXT, family=FONT))
    if melt:
        d.update(ticklabelstandoff=1, ticklabelshift=2)
    return d


AX_L = [px(22), px(322)]
BX_L = [px(356), px(657)]
TOP_AB = [py(138), py(12)]
BOT_AB = [py(275), py(151)]
TOP_C = [py(438), py(308)]
BOT_C = [py(555), py(450)]
A_RNG = [79, 88]
B_RNG = [80.55, 88.88]
C_RNG = [78, 86.53]
F_RNG = [1, 101.6]

fig.update_layout(
    width=W, height=H, margin=dict(l=0, r=0, t=0, b=0),
    paper_bgcolor="white", plot_bgcolor="white", showlegend=False,
    font=dict(family=FONT, color=TXT),
    xaxis=xax(AX_L, A_RNG, "y", True), yaxis=yax(TOP_AB, F_RNG, "x", FLUOR_TICKS, "d"),
    xaxis2=xax(AX_L, A_RNG, "y2", False), yaxis2=yax(BOT_AB, [0, 3.33], "x2", A_MELT_TICKS, ".1f", True),
    xaxis3=xax(BX_L, B_RNG, "y3", True), yaxis3=yax(TOP_AB, F_RNG, "x3", FLUOR_TICKS, "d"),
    xaxis4=xax(BX_L, B_RNG, "y4", False), yaxis4=yax(BOT_AB, [0, 6.57], "x4", B_MELT_TICKS, ".1f", True),
    xaxis5=xax(AX_L, C_RNG, "y5", True), yaxis5=yax(TOP_C, F_RNG, "x5", FLUOR_TICKS, "d"),
    xaxis6=xax(AX_L, C_RNG, "y6", False), yaxis6=yax(BOT_C, [0, 4.6], "x6", C_MELT_TICKS, ".1f", True),
)

ann = []


def text(x, y, s, size=8.5, angle=0, anchor="left", bold=False):
    if bold:
        s = "<b>" + s + "</b>"
    ann.append(dict(x=px(x), y=py(y), xref="paper", yref="paper", text=s, showarrow=False,
                    xanchor=anchor, yanchor="middle", textangle=angle,
                    font=dict(size=size, color=TXT, family=FONT)))


SUB = " - domestic controls and representative covert surveillance samples"
text(1, 4.5, "a. <i>COI</i>" + SUB, size=8.2)
text(333, 4.5, "b. <i>cyt b</i>" + SUB, size=8.2)
text(1, 300.5, "c. <i>16S rRNA</i>" + SUB, size=8.5)

text(4, 72, "Normalised fluorescence (%)", size=8, angle=-90, anchor="center")
text(337, 75, "Normalised fluorescence (%)", size=8, angle=-90, anchor="center")
text(4, 372, "Normalised fluorescence (%)", size=8, angle=-90, anchor="center")
text(4, 208, "Melt rate (dF/dT)", size=8, angle=-90, anchor="center")
text(337, 210, "Melt rate (dF/dT)", size=8, angle=-90, anchor="center")
text(4, 499, "Melt rate (dF/dT)", size=8, angle=-90, anchor="center")
text(180, 290.5, "Temperature (ºC)", size=8, anchor="center")
text(513, 290.5, "Temperature (ºC)", size=8, anchor="center")
text(178, 568.5, "Temperature (ºC)", size=7.8, anchor="center")

shapes = []
# legend box with drop shadow
shapes.append(dict(type="rect", xref="paper", yref="paper", x0=px(363), x1=px(655), y0=py(512), y1=py(315),
                   fillcolor="#000000", line=dict(width=0), layer="above"))
shapes.append(dict(type="rect", xref="paper", yref="paper", x0=px(357), x1=px(649), y0=py(505), y1=py(308),
                   fillcolor="#FFFEF2", line=dict(color="#8A8A8A", width=1), layer="above"))

text(366.5, 322, "Reference samples:", size=8.8, bold=True)
for i, (key, label) in enumerate(LEGEND_REF):
    yy = 339.5 + 11.0 * i
    shapes.append(dict(type="line", xref="paper", yref="paper", x0=px(367), x1=px(390), y0=py(yy), y1=py(yy),
                       line=dict(color=COLORS[key], width=1.2), layer="above"))
    text(391.5, yy, label, size=8.6)

text(545.5, 322, "Representative covert", size=8.8, bold=True)
text(545.5, 332.7, "surveillance samples:", size=8.8, bold=True)
for j, (key, label) in enumerate(LEGEND_COVERT):
    yy = 350.5 + 11.0 * j
    shapes.append(dict(type="line", xref="paper", yref="paper", x0=px(545.7), x1=px(567.5), y0=py(yy), y1=py(yy),
                       line=dict(color=COLORS[key], width=1.2), layer="above"))
    text(568.5, yy, label, size=8.6)

fig.update_layout(annotations=ann, shapes=shapes)
fig.write_html("out.html", config={"displayModeBar": False},
               post_script="document.body.style.margin='0';document.body.style.padding='0';")
